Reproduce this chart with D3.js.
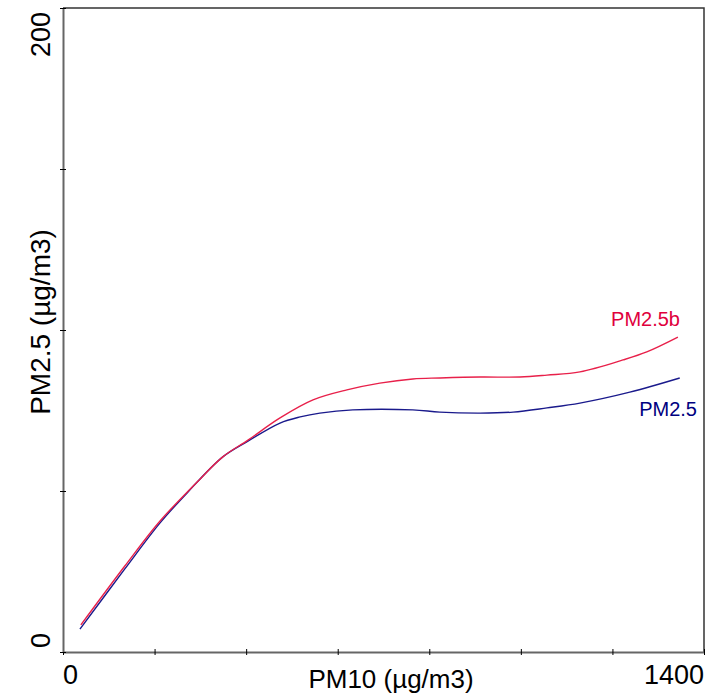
<!DOCTYPE html>
<html>
<head>
<meta charset="utf-8">
<script src="https://cdn.jsdelivr.net/npm/d3@7"></script>
<style>
  body { margin: 0; background: #fff; }
  svg text { font-family: "Liberation Sans", Arial, sans-serif; }
</style>
</head>
<body>
<div class="canvas"></div>
<script>
// PM2.5b (red) curve
const xRed = [39, 135, 212, 293, 349, 404, 474, 546, 620, 692, 764, 823, 911, 998, 1057, 1129, 1223, 1275, 1343];
const yRed = [8.4, 26.7, 40.7, 52.8, 60.6, 65.8, 72.7, 78.3, 81.4, 83.5, 84.8, 85.1, 85.4, 85.4, 86.0, 87.0, 90.7, 93.2, 97.8];
// PM2.5 (blue) curve
const xBlue = [37, 135, 212, 271, 349, 404, 474, 518, 561, 633, 764, 823, 911, 983, 1057, 1129, 1238, 1347];
const yBlue = [7.1, 25.8, 40.1, 49.4, 60.6, 65.5, 71.1, 73.0, 74.2, 75.2, 75.2, 74.5, 74.2, 74.5, 75.8, 77.3, 80.7, 85.1];

const xTicks = [0, 200, 400, 600, 800, 1000, 1200, 1400];
const yTicks = [0, 50, 100, 150, 200];

const width = 727, height = 695;
const margin = { top: 8, right: 23, bottom: 43, left: 63 };

const x = d3.scaleLinear().domain([0, 1400]).range([margin.left, width - margin.right]);
const y = d3.scaleLinear().domain([0, 200]).range([height - margin.bottom, margin.top]);

const svg = d3.select(".canvas").append("svg")
  .attr("width", width)
  .attr("height", height);

// frame (top and right)
svg.append("path")
  .attr("d", `M${x(0)},${y(200)}H${x(1400)}V${y(0)}`)
  .attr("fill", "none")
  .attr("stroke", "#333")
  .attr("stroke-width", 1.5);

// x axis
const gx = svg.append("g")
  .attr("transform", `translate(0,${y(0)})`)
  .call(d3.axisBottom(x).tickValues(xTicks).tickSizeOuter(0).tickSizeInner(3).tickFormat(""));
gx.select(".domain").attr("stroke", "#666").attr("stroke-width", 2);
gx.selectAll(".tick line").attr("y1", -3).attr("y2", 3).attr("stroke", "#000");

// y axis
const gy = svg.append("g")
  .attr("transform", `translate(${x(0)},0)`)
  .call(d3.axisLeft(y).tickValues(yTicks).tickSizeOuter(0).tickSizeInner(3).tickFormat(""));
gy.select(".domain").attr("stroke", "#666").attr("stroke-width", 2);
gy.selectAll(".tick line").attr("x1", -3).attr("x2", 3).attr("stroke", "#000");

// tick labels (only ends are labelled)
const fs = 27;
svg.append("text").attr("x", x(0)).attr("y", 684).attr("font-size", fs).text("0");
svg.append("text").attr("x", x(1400)).attr("y", 684).attr("text-anchor", "end").attr("font-size", fs).text("1400");
svg.append("text").attr("transform", `translate(50,${y(0) - 4}) rotate(-90)`).attr("font-size", fs).text("0");
svg.append("text").attr("transform", `translate(50,${y(200) + 4}) rotate(-90)`).attr("text-anchor", "end").attr("font-size", fs).text("200");

// axis titles
svg.append("text").attr("x", 391).attr("y", 688).attr("text-anchor", "middle").attr("font-size", 26).text("PM10 (\u00b5g/m3)");
svg.append("text").attr("transform", `translate(50,322) rotate(-90)`)
  .attr("text-anchor", "middle").attr("font-size", 28).text("PM2.5 (\u00b5g/m3)");

// curves
const line = d3.line().x(d => x(d[0])).y(d => y(d[1])).curve(d3.curveCatmullRom.alpha(0.5));

svg.append("path")
  .datum(d3.zip(xBlue, yBlue))
  .attr("fill", "none").attr("stroke", "#1a1a8c").attr("stroke-width", 1.4)
  .attr("d", line);

svg.append("path")
  .datum(d3.zip(xRed, yRed))
  .attr("fill", "none").attr("stroke", "#e8204a").attr("stroke-width", 1.4)
  .attr("d", line);

// series labels
svg.append("text").attr("x", 680).attr("y", 326).attr("text-anchor", "end")
  .attr("font-size", 20).attr("fill", "#e0003c").text("PM2.5b");
svg.append("text").attr("x", 697).attr("y", 416).attr("text-anchor", "end")
  .attr("font-size", 20).attr("fill", "#000080").text("PM2.5");
</script>
</body>
</html>
